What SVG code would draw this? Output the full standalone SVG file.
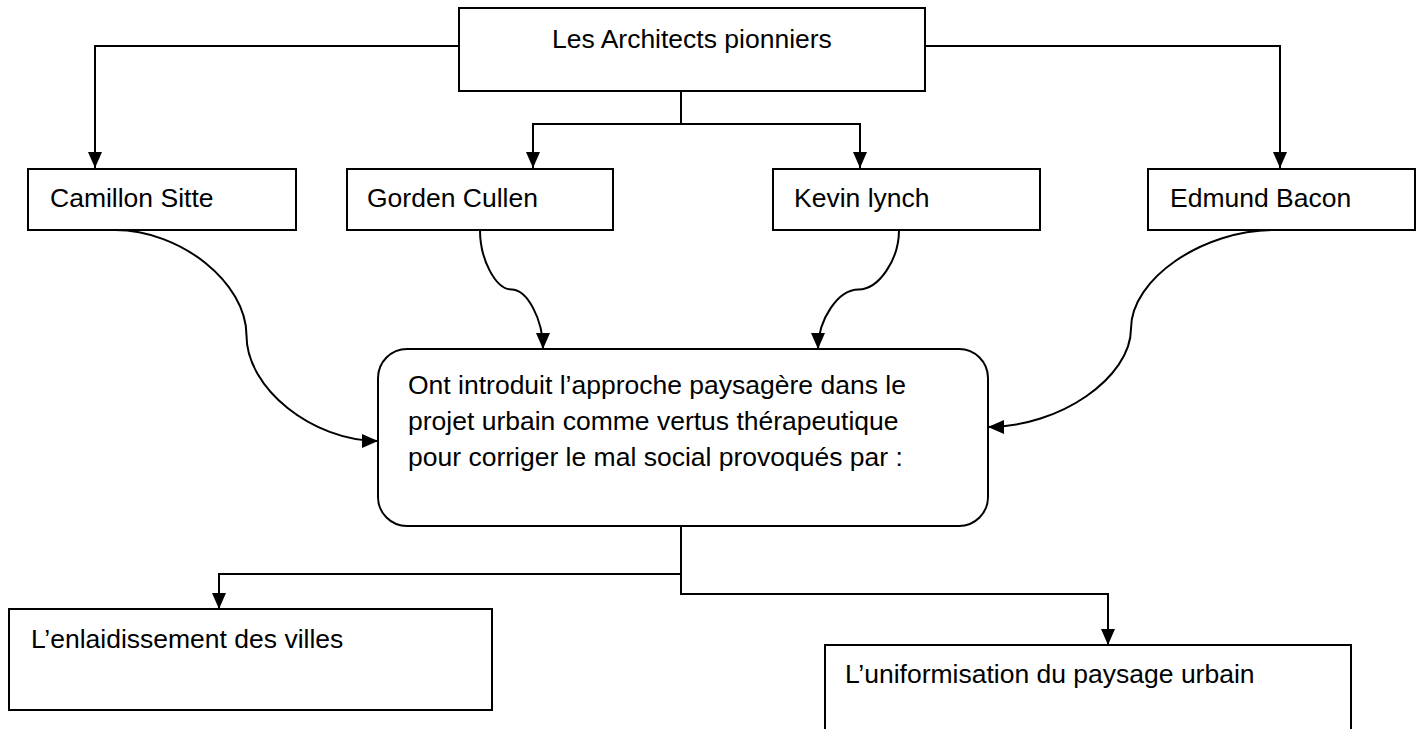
<svg xmlns="http://www.w3.org/2000/svg" width="1423" height="729" viewBox="0 0 1423 729">
<style>
.box{fill:#fff;stroke:#000;stroke-width:2}
.t{font-family:"Liberation Sans",Arial,sans-serif;font-size:26.5px;fill:#000}
.c{fill:none;stroke:#000;stroke-width:2}
</style>
<defs>
<marker id="ah" markerUnits="userSpaceOnUse" markerWidth="16" markerHeight="14" viewBox="0 0 16 14" refX="16" refY="7" orient="auto">
<path d="M0,0 L16,7 L0,14 Z" fill="#000"/>
</marker>
</defs>
<rect width="1423" height="729" fill="#fff"/>
<g id="connectors">
<path class="c" d="M459,46 H95 V168" marker-end="url(#ah)"/>
<path class="c" d="M925,46 H1280 V168" marker-end="url(#ah)"/>
<path class="c" d="M681,91 V124 H533 V168" marker-end="url(#ah)"/>
<path class="c" d="M681,124 H860 V168" marker-end="url(#ah)"/>
<path class="c" d="M115,230 C180.75,230 246.5,282.75 246.5,335.5 C246.5,388.25 312.25,441 378,441" marker-end="url(#ah)"/>
<path class="c" d="M480,230 C480,259.75 495.75,289.5 511.5,289.5 C527.25,289.5 543,319.25 543,349" marker-end="url(#ah)"/>
<path class="c" d="M899,230 C899,259.75 878.75,289.5 858.5,289.5 C838.25,289.5 818,319.25 818,349" marker-end="url(#ah)"/>
<path class="c" d="M1274,230 C1202.5,230 1131,279.25 1131,328.5 C1131,377.75 1059.5,427 988,427" marker-end="url(#ah)"/>
<path class="c" d="M681,526 V594 H1108 V645" marker-end="url(#ah)"/>
<path class="c" d="M681,574 H219 V609" marker-end="url(#ah)"/>
</g>
<g id="node-top">
<rect class="box" x="459" y="8" width="466" height="83"/>
<text class="t" x="552" y="48">Les Architects pionniers</text>
</g>
<g id="node-sitte">
<rect class="box" x="28" y="169" width="268" height="61"/>
<text class="t" x="50" y="207">Camillon Sitte</text>
</g>
<g id="node-cullen">
<rect class="box" x="347" y="169" width="266" height="61"/>
<text class="t" x="367" y="207">Gorden Cullen</text>
</g>
<g id="node-lynch">
<rect class="box" x="773" y="169" width="267" height="61"/>
<text class="t" x="794" y="207">Kevin lynch</text>
</g>
<g id="node-bacon">
<rect class="box" x="1148" y="169" width="267" height="61"/>
<text class="t" x="1170" y="207">Edmund Bacon</text>
</g>
<g id="node-center">
<rect class="box" x="378" y="349" width="610" height="177" rx="29" ry="29"/>
<text class="t" x="408" y="394">Ont introduit l’approche paysagère dans le</text>
<text class="t" x="408" y="430">projet urbain comme vertus thérapeutique</text>
<text class="t" x="408" y="466">pour corriger le mal social provoqués par :</text>
</g>
<g id="node-enlaid">
<rect class="box" x="9" y="609" width="483" height="101"/>
<text class="t" x="31" y="648">L’enlaidissement des villes</text>
</g>
<g id="node-uniform">
<rect class="box" x="825" y="645" width="526" height="100"/>
<text class="t" x="845" y="683">L’uniformisation du paysage urbain</text>
</g>
</svg>
